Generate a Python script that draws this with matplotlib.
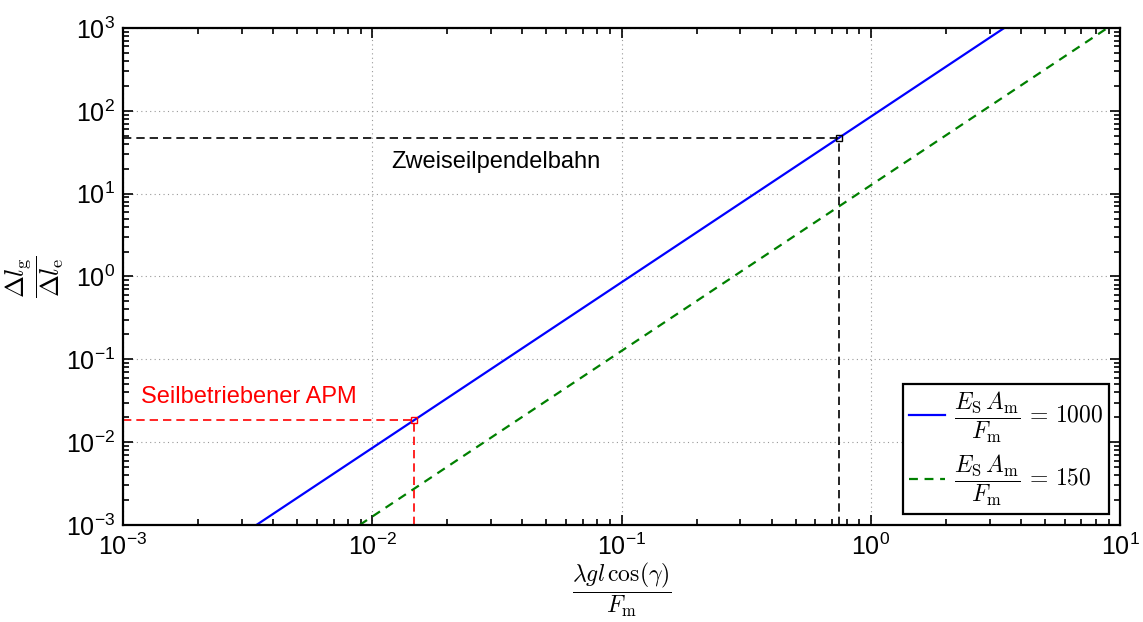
import matplotlib
matplotlib.use("Agg")
import matplotlib.pyplot as plt

plt.rcParams["font.family"] = ["Liberation Sans", "DejaVu Sans"]
plt.rcParams["mathtext.fontset"] = "cm"

blau_x = [0.00343, 3.43]
blau_y = [1e-3, 1e3]
gruen_x = [0.0089, 8.9]
gruen_y = [1e-3, 1e3]

# Markierte Arbeitspunkte
zweiseil_x = 0.743
zweiseil_y = 46.5
apm_x = 0.0147
apm_y = 0.0183

x_min, x_max = 1e-3, 1e1
y_min, y_max = 1e-3, 1e3

fig = plt.figure(figsize=(11.43, 6.22), dpi=100)
ax = fig.add_axes([0.1076, 0.156, 0.8723, 0.799])

ax.plot(blau_x, blau_y, color="#0000ff", linewidth=1.6,
        label=r"$\dfrac{E_\mathrm{S}\,A_\mathrm{m}}{F_\mathrm{m}}\,=\,1000$")
ax.plot(gruen_x, gruen_y, color="#008000", linewidth=1.6, linestyle=(0, (4, 3)),
        label=r"$\dfrac{E_\mathrm{S}\,A_\mathrm{m}}{F_\mathrm{m}}\,=\,150$")

# Zweiseilpendelbahn
ax.plot([x_min, zweiseil_x], [zweiseil_y, zweiseil_y], color="black",
        linewidth=1.2, linestyle=(0, (5, 3)))
ax.plot([zweiseil_x, zweiseil_x], [y_min, zweiseil_y], color="black",
        linewidth=1.2, linestyle=(0, (5, 3)))
ax.plot([zweiseil_x], [zweiseil_y], marker="s", markersize=5,
        markerfacecolor="none", markeredgecolor="black", markeredgewidth=1)
ax.text(0.0313, 24, "Zweiseilpendelbahn", fontsize=17, ha="center", va="center")

# Seilbetriebener APM
ax.plot([x_min, apm_x], [apm_y, apm_y], color="#ff0000",
        linewidth=1.2, linestyle=(0, (5, 3)))
ax.plot([apm_x, apm_x], [y_min, apm_y], color="#ff0000",
        linewidth=1.2, linestyle=(0, (5, 3)))
ax.plot([apm_x], [apm_y], marker="s", markersize=5,
        markerfacecolor="none", markeredgecolor="#ff0000", markeredgewidth=1)
ax.text(0.00118, 0.035, "Seilbetriebener APM", fontsize=17, color="#ff0000",
        ha="left", va="center")

ax.set_xscale("log")
ax.set_yscale("log")
ax.set_xlim(x_min, x_max)
ax.set_ylim(y_min, y_max)

ax.grid(True, which="major", linestyle=(0, (1, 3)), color="#999999", linewidth=0.8)
ax.tick_params(which="both", direction="in", top=True, right=True, labelsize=18,
               width=1.2)
ax.tick_params(which="major", length=7)
ax.tick_params(which="minor", length=4)
ax.tick_params(axis="x", pad=6)
ax.tick_params(axis="y", pad=6)
for sp in ax.spines.values():
    sp.set_linewidth(1.6)

ax.set_xlabel(r"$\dfrac{\lambda g l\,\cos(\gamma)}{F_\mathrm{m}}$", fontsize=17,
              labelpad=1)
ax.set_ylabel(r"$\dfrac{\Delta l_\mathrm{g}}{\Delta l_\mathrm{e}}$", fontsize=19,
              labelpad=0)

leg = ax.legend(loc="lower right", fontsize=17, fancybox=False, framealpha=1,
                edgecolor="black", handlelength=1.5, borderaxespad=0.45,
                labelspacing=0.35, handletextpad=0.4, borderpad=0.25)
leg.get_frame().set_linewidth(1.6)

fig.savefig("out.png", dpi=100)
